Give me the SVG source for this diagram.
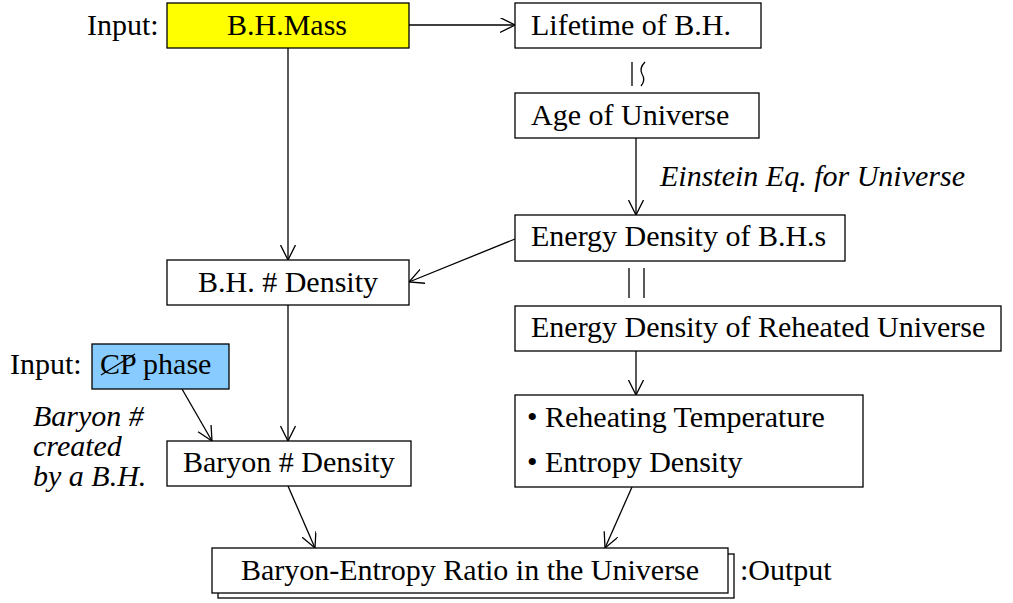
<svg xmlns="http://www.w3.org/2000/svg" width="1013" height="603" viewBox="0 0 1013 603">
<style>
text{font-family:"Liberation Serif","Times New Roman",serif;font-size:30px;fill:#000}
.c{text-anchor:middle}
.i{font-style:italic}
.box{fill:#fff;stroke:#000;stroke-width:1.3}
.conn line,.conn path{stroke:#000;stroke-width:1.3;fill:none}
</style>
<defs>
<marker id="a" viewBox="0 0 16 16" refX="15" refY="7.5" markerWidth="16" markerHeight="16" markerUnits="userSpaceOnUse" orient="auto">
<path d="M0,0 L15,7.5 L0,15" fill="none" stroke="#000" stroke-width="1.3"/>
</marker>
</defs>
<rect width="1013" height="603" fill="#fff"/>
<g class="conn">
<line x1="409" y1="25" x2="515" y2="25" marker-end="url(#a)"/>
<line x1="288" y1="48" x2="288" y2="260" marker-end="url(#a)"/>
<line x1="636" y1="138" x2="636" y2="215" marker-end="url(#a)"/>
<line x1="515" y1="239" x2="409" y2="282" marker-end="url(#a)"/>
<line x1="288" y1="305" x2="288" y2="441" marker-end="url(#a)"/>
<line x1="182" y1="389" x2="212" y2="441" marker-end="url(#a)"/>
<line x1="636" y1="351" x2="636" y2="395" marker-end="url(#a)"/>
<line x1="288" y1="486" x2="315" y2="548" marker-end="url(#a)"/>
<line x1="632" y1="487" x2="605" y2="548" marker-end="url(#a)"/>
<line x1="632" y1="62" x2="632" y2="86"/>
<path d="M645,62 Q639,68 642,74 Q646,80 641,86"/>
<line x1="629" y1="268" x2="629" y2="298"/>
<line x1="644" y1="268" x2="644" y2="298"/>
</g>
<g id="input1"><text x="87" y="35">Input:</text></g>
<g id="bhmass"><rect class="box" x="167" y="3" width="242" height="45" style="fill:#ffff00"/><text class="c" x="287" y="35">B.H.Mass</text></g>
<g id="lifetime"><rect class="box" x="515" y="3" width="246" height="45"/><text x="531" y="35">Lifetime of B.H.</text></g>
<g id="age"><rect class="box" x="515" y="93" width="244" height="45"/><text x="531" y="125">Age of Universe</text></g>
<g id="einstein"><text class="i" x="660" y="186">Einstein Eq. for Universe</text></g>
<g id="edbh"><rect class="box" x="515" y="215" width="330" height="46"/><text x="531" y="246">Energy Density of B.H.s</text></g>
<g id="bhdensity"><rect class="box" x="167" y="260" width="242" height="45"/><text class="c" x="288" y="292">B.H. # Density</text></g>
<g id="edru"><rect class="box" x="515" y="306" width="486" height="45"/><text x="531" y="337">Energy Density of Reheated Universe</text></g>
<g id="input2"><text x="10" y="374">Input:</text></g>
<g id="cp"><rect class="box" x="92" y="344" width="137" height="45" style="fill:#88ccff"/><text x="100" y="374">CP phase</text><line x1="101" y1="375" x2="135" y2="354" stroke="#000" stroke-width="1.3"/></g>
<g id="created"><text class="i" x="33" y="426">Baryon #</text><text class="i" x="33" y="456">created</text><text class="i" x="33" y="486">by a B.H.</text></g>
<g id="baryon"><rect class="box" x="167" y="441" width="244" height="45"/><text x="183" y="472">Baryon # Density</text></g>
<g id="reheat"><rect class="box" x="515" y="395" width="348" height="92"/><text x="527" y="427">• Reheating Temperature</text><text x="527" y="472">• Entropy Density</text></g>
<g id="output"><rect class="box" x="218" y="554" width="516" height="44"/><rect class="box" x="212" y="548" width="516" height="45"/><text class="c" x="470" y="580">Baryon-Entropy Ratio in the Universe</text><text x="740" y="580">:Output</text></g>
</svg>
